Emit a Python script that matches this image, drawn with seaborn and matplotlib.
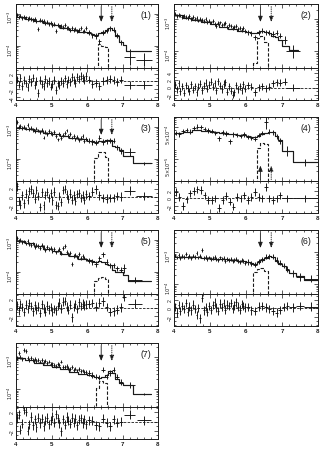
import numpy as np
import matplotlib
matplotlib.use("Agg")
import matplotlib.pyplot as plt
import seaborn as sns
from matplotlib.ticker import FixedLocator, FixedFormatter, MultipleLocator, NullFormatter

# ---------------- shared energy grids (keV) ----------------
E_DENSE = [4.025, 4.075, 4.125, 4.175, 4.225, 4.275, 4.325, 4.375, 4.425, 4.475,
           4.525, 4.575, 4.625, 4.675, 4.725, 4.775, 4.825, 4.875, 4.925, 4.975,
           5.025, 5.075, 5.125, 5.175, 5.225, 5.275, 5.325, 5.375, 5.425, 5.475,
           5.525, 5.575, 5.625, 5.675, 5.725, 5.775, 5.825, 5.875, 5.925, 5.975]
E_MID = [6.05, 6.15, 6.25, 6.35, 6.45, 6.55, 6.65, 6.75, 6.85, 6.95]
E_COARSE = [4.05, 4.15, 4.25, 4.35, 4.45, 4.55, 4.65, 4.75, 4.85, 4.95,
            5.05, 5.15, 5.25, 5.35, 5.45, 5.55, 5.65, 5.75, 5.85, 5.95,
            6.05, 6.15, 6.25, 6.35, 6.45, 6.55, 6.65, 6.75, 6.85, 6.95]
DENSE_HW, MID_HW, COARSE_HW = 0.025, 0.05, 0.05
DENSE_ERR, MID_ERR = 0.06, 0.08          # error half-size (dex)
MODEL_EDGES = [4.0, 4.25, 4.5, 4.75, 5.0, 5.25, 5.5, 5.75, 6.0,
               6.1, 6.2, 6.3, 6.4, 6.5, 6.6, 6.7, 6.8, 6.9, 7.0]
X_TICKS = [4, 5, 6, 7, 8]
FE_LINES = [6.4, 6.7]

# ---------------- panel (1) ----------------
P1_LOGFLUX = [-3.04, -3.10, -3.06, -3.14, -3.10, -3.12, -3.18, -3.14, -3.16, -3.20,
              -3.16, -3.22, -3.48, -3.20, -3.24, -3.22, -3.28, -3.26, -3.32, -3.28,
              -3.36, -3.32, -3.54, -3.36, -3.40, -3.38, -3.42, -3.36, -3.46, -3.44,
              -3.50, -3.46, -3.52, -3.48, -3.54, -3.50, -3.44, -3.56, -3.54, -3.44,
              -3.58, -3.68, -3.70, -3.86, -3.60, -3.54, -3.46, -3.50, -3.68, -3.90,
              -4.36, -4.44]
P1_TAIL_E, P1_TAIL_HW, P1_TAIL_ERR = [7.2, 7.6], [0.15, 0.22], [0.25, 0.2]
P1_RESID = [0.5, -0.8, 0.9, -1.2, 0.3, -0.5, -1.5, 0.6, -0.2, 1.0,
            -0.9, 0.2, -3.0, 0.4, -0.6, -1.1, 0.7, -0.4, 0.1, -1.3,
            -0.7, 0.3, -2.2, -0.5, -1.0, 0.2, -0.3, 0.8, -0.6, 0.5,
            -0.2, 1.1, 0.4, -0.3, 1.2, 0.6, 1.5, 0.9, 0.3, 1.4,
            0.5, -0.6, -0.3, -1.2, 0.2, 0.4, 0.6, 0.3, -0.2, 0.5,
            -0.9, -0.9]
P1_MODEL = [-3.10, -3.17, -3.24, -3.30, -3.37, -3.44, -3.50, -3.56, -3.62,
            -3.64, -3.66, -3.62, -3.58, -3.52, -3.46, -3.52, -3.70, -3.90]
P1_MODEL_TAIL_EDGES, P1_MODEL_TAIL = [7.1, 7.8], [-3.98, -4.18]
P1_LINE_EDGES, P1_LINE = [6.3, 6.4, 6.5, 6.6], [-3.96, -4.00, -4.04]

# ---------------- panel (2) ----------------
P2_LOGFLUX = [-2.84, -2.90, -2.86, -2.88, -2.94, -2.90, -2.92, -2.96, -2.90, -2.98,
              -2.94, -3.00, -2.96, -3.04, -2.98, -3.02, -3.06, -3.00, -3.08, -3.04,
              -3.10, -3.06, -3.14, -3.22, -3.12, -3.10, -3.18, -3.14, -3.12, -3.24,
              -3.18, -3.22, -3.28, -3.24, -3.20, -3.30, -3.26, -3.34, -3.28, -3.36,
              -3.40, -3.44, -3.56, -3.42, -3.36, -3.40, -3.42, -3.46, -3.42, -3.52,
              -3.64, -4.00]
P2_TAIL_E, P2_TAIL_HW, P2_TAIL_ERR = [7.07, 7.3], [0.07, 0.2], [0.12, 0.2]
P2_RESID = [0.8, -0.5, 1.2, -1.0, 0.3, -1.4, 0.6, -0.2, -1.1, 0.9,
            -0.6, 0.4, -1.3, 0.2, 1.1, -0.7, 0.5, 1.4, -0.3, 0.8,
            1.6, 0.2, 1.2, -0.8, 1.8, 0.5, -0.4, 1.0, 1.5, -1.2,
            0.3, -0.9, -2.0, -1.3, 0.6, -0.5, 0.4, -0.8, 0.9, -0.3,
            0.6, 0.2, -1.3, 0.1, 0.4, -0.2, 0.2, 1.2, 1.5, 1.4,
            1.6, 0.0]
P2_MODEL = [-2.88, -2.95, -3.02, -3.09, -3.16, -3.23, -3.30, -3.37, -3.40,
            -3.42, -3.44, -3.40, -3.38, -3.40, -3.44, -3.52, -3.56, -3.64]
P2_MODEL_TAIL_EDGES, P2_MODEL_TAIL = [7.2, 7.45], [-3.82, -3.96]
P2_LINE_EDGES, P2_LINE = [6.2, 6.3, 6.4, 6.5, 6.6], [-4.36, -3.58, -3.52, -3.72]

# ---------------- panel (3) ----------------
P3_LOGFLUX = [-2.86, -3.02, -2.98, -3.04, -3.00, -3.06, -2.96, -3.08, -3.04, -3.10,
              -3.14, -3.06, -3.12, -3.18, -3.10, -3.34, -3.16, -3.22, -3.14, -3.20,
              -3.24, -3.18, -3.28, -3.40, -3.22, -3.36, -3.26, -3.20, -3.12, -3.30,
              -3.24, -3.34, -3.28, -3.40, -3.32, -3.42, -3.36, -3.30, -3.44, -3.38,
              -3.44, -3.48, -3.50, -3.34, -3.48, -3.46, -3.44, -3.44, -3.64, -3.76,
              -3.80, -4.14]
P3_TAIL_E, P3_TAIL_HW, P3_TAIL_ERR = [7.2, 7.6], [0.15, 0.22], [0.12, 0.05]
P3_RESID = [2.5, -1.0, -1.8, 0.4, -1.5, 0.8, -0.6, 1.4, 1.8, 0.9,
            -0.4, 1.6, 0.3, -2.4, 1.1, -2.0, 0.5, 1.2, -0.3, 0.9,
            -0.8, 1.3, -1.9, -2.1, 0.2, -1.2, 1.7, 1.9, 0.6, -0.5,
            0.8, -0.6, 0.4, -1.0, 0.7, 1.0, -0.2, 0.5, -0.7, 0.6,
            0.2, 1.3, 1.8, 0.4, -0.3, -0.4, -0.2, -0.3, 0.2, 0.1,
            1.5, 0.2]
P3_MODEL = [-3.03, -3.08, -3.14, -3.19, -3.24, -3.30, -3.35, -3.40, -3.44,
            -3.46, -3.48, -3.46, -3.44, -3.42, -3.42, -3.60, -3.64, -3.74]
P3_MODEL_TAIL_EDGES, P3_MODEL_TAIL = [7.3, 7.8], [-3.92, -4.14]
P3_LINE_EDGES, P3_LINE = [6.2, 6.3, 6.4, 6.5, 6.6], [-3.98, -3.78, -3.80, -3.94]

# ---------------- panel (4) ----------------
P4_LOGFLUX = [-3.50, -3.54, -3.44, -3.40, -3.46, -3.34, -3.30, -3.32, -3.38, -3.42,
              -3.44, -3.50, -3.66, -3.48, -3.52, -3.76, -3.54, -3.56, -3.60, -3.54,
              -3.62, -3.66, -3.68, -3.56, -3.50, -3.16, -3.46, -3.48, -3.60, -3.74,
              -4.06, -4.42]
P4_ERR = [0.07, 0.07, 0.07, 0.07, 0.07, 0.07, 0.07, 0.07, 0.07, 0.07,
          0.07, 0.07, 0.08, 0.07, 0.07, 0.08, 0.07, 0.07, 0.07, 0.07,
          0.07, 0.07, 0.08, 0.07, 0.07, 0.20, 0.07, 0.07, 0.08, 0.09,
          0.15, 0.10]
P4_TAIL_E, P4_TAIL_HW = [7.15, 7.65], [0.15, 0.35]
P4_RESID = [1.7, 0.4, -2.0, -0.3, 1.3, 2.0, 2.4, 2.2, 0.8, -0.4,
            -0.4, 0.0, -2.6, -0.4, 0.6, -0.9, -2.2, 0.4, 0.0, 0.8,
            -0.4, 0.4, 1.7, 0.4, 0.0, 3.0, 0.0, -0.4, 0.0, 0.8,
            0.0, 0.0]
P4_MODEL = [-3.50, -3.46, -3.42, -3.44, -3.46, -3.50, -3.52, -3.56, -3.60,
            -3.62, -3.64, -3.60, -3.54, -3.50, -3.46, -3.48, -3.58, -3.72]
P4_MODEL_TAIL_EDGES, P4_MODEL_TAIL = [7.3, 8.0], [-4.06, -4.42]
P4_LINE_EDGES, P4_LINE = [6.3, 6.4, 6.5, 6.6], [-3.96, -3.80, -3.84]

# ---------------- panel (5) ----------------
P5_LOGFLUX = [-2.96, -3.04, -3.00, -3.08, -3.06, -3.12, -3.04, -3.14, -3.18, -3.12,
              -3.22, -3.16, -3.20, -3.26, -3.18, -3.24, -3.32, -3.22, -3.30, -3.26,
              -3.36, -3.30, -3.40, -3.34, -3.28, -3.42, -3.26, -3.20, -3.38, -3.46,
              -3.42, -3.76, -3.52, -3.48, -3.54, -3.46, -3.58, -3.50, -3.56, -3.62,
              -3.66, -3.70, -3.76, -3.58, -3.46, -3.70, -3.80, -3.80, -3.90, -3.94,
              -3.90, -4.26]
P5_TAIL_E, P5_TAIL_HW, P5_TAIL_ERR = [7.05, 7.35], [0.06, 0.2], [0.15, 0.1]
P5_RESID = [0.5, -0.6, 0.9, 0.2, -1.0, 0.7, -0.3, 1.1, 0.4, -0.8,
            0.6, -0.5, 0.3, -1.2, 0.8, -0.2, -0.9, 0.5, -0.4, 0.2,
            -1.0, -0.3, -0.6, 0.4, 1.2, -0.2, 1.4, 1.6, 0.3, -0.5,
            0.7, -2.2, 0.2, 0.9, -0.3, 1.3, 0.4, 1.0, 0.6, 0.8,
            0.9, 1.1, 0.3, 1.2, 1.5, 0.2, -1.0, -0.8, -0.4, 0.1,
            2.5, 1.0]
P5_MODEL = [-3.04, -3.12, -3.20, -3.28, -3.36, -3.44, -3.52, -3.60, -3.64,
            -3.68, -3.70, -3.68, -3.70, -3.76, -3.80, -3.94, -4.00, -4.02]
P5_MODEL_TAIL_EDGES, P5_MODEL_TAIL = [7.15, 7.8], [-4.10, -4.30]
P5_LINE_EDGES, P5_LINE = [6.2, 6.3, 6.4, 6.5, 6.6], [-4.30, -4.20, -4.18, -4.22]

# ---------------- panel (6) ----------------
P6_LOGFLUX = [-3.10, -3.16, -3.08, -3.18, -3.12, -3.14, -3.06, -3.16, -3.12, -3.18,
              -3.10, -3.14, -3.02, -3.16, -3.12, -2.92, -3.18, -3.14, -3.20, -3.16,
              -3.22, -3.18, -3.14, -3.20, -3.24, -3.16, -3.22, -3.18, -3.26, -3.20,
              -3.24, -3.22, -3.28, -3.24, -3.20, -3.26, -3.30, -3.24, -3.28, -3.32,
              -3.30, -3.36, -3.38, -3.28, -3.22, -3.14, -3.12, -3.14, -3.24, -3.32,
              -3.42, -3.52, -3.66, -3.78, -3.82]
P6_TAIL_E = [7.05, 7.15, 7.3, 7.5, 7.8]
P6_TAIL_HW = [0.05, 0.05, 0.1, 0.1, 0.2]
P6_TAIL_ERR = [0.08, 0.09, 0.1, 0.12, 0.12]
P6_RESID = [0.3, -1.0, 0.8, -0.6, 0.5, -0.2, 1.2, -0.8, 0.4, -0.5,
            0.9, -0.2, -1.6, 0.1, -2.4, 2.4, -0.5, 0.3, -0.9, 0.6,
            -0.4, 0.8, 1.4, 0.2, -0.6, 1.1, 0.3, 1.3, -0.3, 0.9,
            0.5, 1.2, -0.2, 0.7, 1.4, 0.4, -0.3, 1.0, 0.6, 0.2,
            0.3, -0.5, -0.6, 0.4, 0.5, 0.2, -0.2, -0.6, -1.0, -0.4,
            0.3, 0.5, 0.2, 0.6, 0.4]
P6_MODEL = [-3.14, -3.14, -3.16, -3.18, -3.20, -3.22, -3.24, -3.28, -3.30,
            -3.34, -3.36, -3.30, -3.24, -3.18, -3.12, -3.16, -3.26, -3.36]
P6_MODEL_TAIL_EDGES = [7.1, 7.2, 7.4, 7.6, 8.0]
P6_MODEL_TAIL = [-3.44, -3.54, -3.64, -3.74, -3.86]
P6_LINE_EDGES, P6_LINE = [6.2, 6.3, 6.4, 6.5, 6.6], [-3.62, -3.52, -3.50, -3.58]

# ---------------- panel (7) ----------------
P7_LOGFLUX = [-3.04, -2.88, -3.00, -3.06, -2.78, -2.82, -3.04, -3.08, -3.02, -3.10,
              -3.06, -3.12, -3.08, -3.14, -3.10, -3.16, -3.12, -3.18, -3.14, -3.22,
              -3.20, -3.24, -3.28, -3.22, -3.26, -3.14, -3.30, -3.32, -3.28, -3.34,
              -3.38, -3.32, -3.40, -3.36, -3.42, -3.38, -3.44, -3.42, -3.48, -3.46,
              -3.50, -3.56, -3.62, -3.64, -3.40, -3.62, -3.50, -3.40, -3.62, -3.78,
              -3.88, -4.16]
P7_TAIL_E, P7_TAIL_HW, P7_TAIL_ERR = [7.2, 7.6], [0.15, 0.2], [0.1, 0.04]
P7_RESID = [0.8, 1.5, -1.8, -0.5, 2.6, 2.2, -2.0, -0.6, 1.0, -0.8,
            0.5, -1.2, 0.9, -0.3, 0.6, -1.0, 0.2, 0.8, -0.6, 0.3,
            1.2, -0.2, 1.6, 0.7, -0.4, -2.1, 0.5, -0.7, 1.0, 0.2,
            -0.5, 0.9, -0.2, 0.6, -0.8, 0.4, 0.7, -0.3, 0.5, -0.6,
            0.3, 0.2, -0.8, -1.0, 0.6, -0.2, -1.0, 0.5, -0.2, 0.0,
            1.5, 0.3]
P7_MODEL = [-3.04, -3.10, -3.18, -3.24, -3.32, -3.38, -3.46, -3.52, -3.56,
            -3.60, -3.62, -3.64, -3.62, -3.56, -3.44, -3.50, -3.68, -3.80]
P7_MODEL_TAIL_EDGES, P7_MODEL_TAIL = [7.3, 7.8], [-3.88, -4.14]
P7_LINE_EDGES, P7_LINE = [6.25, 6.35, 6.45, 6.55], [-3.98, -3.76, -3.80]

# ---------------- axis settings per panel ----------------
SPEC_BOTTOM = [2e-5, 3e-5, 2e-5, 1e-5, 2e-5, 5e-5, 2.75e-5]
DEC_TICKS = [1e-4, 1e-3]
DEC_LABELS = ["$10^{-4}$", "$10^{-3}$"]
P4_TICKS = [5e-5, 5e-4]
P4_LABELS = ["$5{\\times}10^{-5}$", "$5{\\times}10^{-4}$"]
RES_LIMS = [(-4.8, 3.5), (-3.5, 5.5), (-3.8, 3.8), (-3.9, 4.6), (-4.2, 3.2), (-4.2, 3.4), (-3.8, 3.2)]
RES_TICKS = [[-4, -2, 0, 2], [-2, 0, 2, 4], [-2, 0, 2], [-2, 0, 2], [-2, 0, 2], [-2, 0, 2], [-2, 0, 2]]
LABELS = ["(1)", "(2)", "(3)", "(4)", "(5)", "(6)", "(7)"]

# ---------------- figure ----------------
sns.set_theme(style="ticks")
plt.rcParams["font.family"] = ["Liberation Sans", "DejaVu Sans"]
plt.rcParams["axes.linewidth"] = 0.7

W, H = 327, 452
fig = plt.figure(figsize=(W / 100, H / 100), dpi=100)
COL_X, COL_W = [16, 174], [142, 144]
ROW_TOP = [5, 118, 231, 344]
SPEC_H, RES_H = 64, 32
POS = [(0, 0), (0, 1), (1, 0), (1, 1), (2, 0), (2, 1), (3, 0)]
ARROW = "-|>,head_length=0.55,head_width=0.22"


def rect(x, top, w, h):
    return [x / W, 1 - (top + h) / H, w / W, h / H]


def style_axes(ax):
    ax.set_xlim(4, 8)
    ax.xaxis.set_major_locator(FixedLocator(X_TICKS))
    ax.xaxis.set_minor_locator(MultipleLocator(0.2))
    ax.tick_params(which="both", direction="in", top=True, right=True, width=0.5, colors="k")
    ax.tick_params(which="major", length=2.8)
    ax.tick_params(which="minor", length=1.4)
    ax.tick_params(axis="y", labelrotation=90, labelsize=3.6, pad=1)
    ax.tick_params(axis="x", labelsize=4.4, pad=1.5)
    for lab in ax.get_xticklabels():
        lab.set_fontweight("bold")
    for s in ax.spines.values():
        s.set_linewidth(0.7)
        s.set_color("k")
    ax.grid(False)


def arrow(ax, e, y0, y1, ls):
    ax.annotate("", xy=(e, y1), xytext=(e, y0),
                xycoords=("data", "axes fraction"), textcoords=("data", "axes fraction"),
                arrowprops=dict(arrowstyle=ARROW, lw=0.6, ls=ls, color="k",
                                shrinkA=0, shrinkB=0, mutation_scale=6))


def draw_panel(i, energies, halfw, logflux, errdex, resid, model_vals, tail_edges,
               tail_vals, line_edges, line_vals):
    row, col = POS[i]
    top = ROW_TOP[row]
    ax_s = fig.add_axes(rect(COL_X[col], top, COL_W[col], SPEC_H))
    ax_r = fig.add_axes(rect(COL_X[col], top + SPEC_H, COL_W[col], RES_H))
    b = SPEC_BOTTOM[i]
    ax_s.set_yscale("log")
    ax_s.set_ylim(b, b * 100)

    flux = 10.0 ** np.array(logflux)
    err = np.array(errdex)
    lo = flux - flux / 10.0 ** err
    hi = flux * 10.0 ** err - flux
    ax_s.errorbar(energies, flux, xerr=halfw, yerr=[lo, hi], fmt="none",
                  ecolor="0.05", elinewidth=0.65, capsize=0)

    edges = MODEL_EDGES + tail_edges
    mvals = list(10.0 ** np.array(model_vals + tail_vals))
    sns.lineplot(x=edges, y=mvals + [mvals[-1]], drawstyle="steps-post", ax=ax_s,
                 color="k", lw=0.85, estimator=None, sort=False)
    ax_s.stairs(10.0 ** np.array(line_vals), line_edges, baseline=b * 1e-2,
                color="k", lw=0.8, ls=(0, (3, 1.6)))

    if i == 3:
        ax_s.yaxis.set_major_locator(FixedLocator(P4_TICKS))
        ax_s.yaxis.set_major_formatter(FixedFormatter(P4_LABELS))
    else:
        ax_s.yaxis.set_major_locator(FixedLocator(DEC_TICKS))
        ax_s.yaxis.set_major_formatter(FixedFormatter(DEC_LABELS))
    ax_s.yaxis.set_minor_formatter(NullFormatter())
    style_axes(ax_s)
    ax_s.tick_params(axis="x", labelbottom=False)

    ax_s.text(0.955, 0.9, LABELS[i], transform=ax_s.transAxes, ha="right", va="top",
              fontsize=6.3, color="k")
    if i == 3:
        arrow(ax_s, FE_LINES[0], 0.02, 0.24, "-")
        arrow(ax_s, FE_LINES[1], 0.02, 0.24, ":")
    else:
        arrow(ax_s, FE_LINES[0], 0.96, 0.72, "-")
        arrow(ax_s, FE_LINES[1], 0.96, 0.72, ":")

    ax_r.errorbar(energies, resid, xerr=halfw, yerr=1.0, fmt="none",
                  ecolor="0.05", elinewidth=0.65, capsize=0)
    ax_r.axhline(0, color="k", lw=0.6, ls=(0, (3, 1.6)))
    ax_r.set_ylim(*RES_LIMS[i])
    ax_r.yaxis.set_major_locator(FixedLocator(RES_TICKS[i]))
    ax_r.yaxis.set_minor_locator(MultipleLocator(1))
    style_axes(ax_r)


def full(tail_e):
    return E_DENSE + E_MID + tail_e


def hws(tail_hw):
    return [DENSE_HW] * len(E_DENSE) + [MID_HW] * len(E_MID) + tail_hw


def errs(tail_err):
    return [DENSE_ERR] * len(E_DENSE) + [MID_ERR] * len(E_MID) + tail_err


draw_panel(0, full(P1_TAIL_E), hws(P1_TAIL_HW), P1_LOGFLUX, errs(P1_TAIL_ERR), P1_RESID,
           P1_MODEL, P1_MODEL_TAIL_EDGES, P1_MODEL_TAIL, P1_LINE_EDGES, P1_LINE)
draw_panel(1, full(P2_TAIL_E), hws(P2_TAIL_HW), P2_LOGFLUX, errs(P2_TAIL_ERR), P2_RESID,
           P2_MODEL, P2_MODEL_TAIL_EDGES, P2_MODEL_TAIL, P2_LINE_EDGES, P2_LINE)
draw_panel(2, full(P3_TAIL_E), hws(P3_TAIL_HW), P3_LOGFLUX, errs(P3_TAIL_ERR), P3_RESID,
           P3_MODEL, P3_MODEL_TAIL_EDGES, P3_MODEL_TAIL, P3_LINE_EDGES, P3_LINE)
draw_panel(3, E_COARSE + P4_TAIL_E, [COARSE_HW] * len(E_COARSE) + P4_TAIL_HW, P4_LOGFLUX,
           P4_ERR, P4_RESID, P4_MODEL, P4_MODEL_TAIL_EDGES, P4_MODEL_TAIL,
           P4_LINE_EDGES, P4_LINE)
draw_panel(4, full(P5_TAIL_E), hws(P5_TAIL_HW), P5_LOGFLUX, errs(P5_TAIL_ERR), P5_RESID,
           P5_MODEL, P5_MODEL_TAIL_EDGES, P5_MODEL_TAIL, P5_LINE_EDGES, P5_LINE)
draw_panel(5, full(P6_TAIL_E), hws(P6_TAIL_HW), P6_LOGFLUX, errs(P6_TAIL_ERR), P6_RESID,
           P6_MODEL, P6_MODEL_TAIL_EDGES, P6_MODEL_TAIL, P6_LINE_EDGES, P6_LINE)
draw_panel(6, full(P7_TAIL_E), hws(P7_TAIL_HW), P7_LOGFLUX, errs(P7_TAIL_ERR), P7_RESID,
           P7_MODEL, P7_MODEL_TAIL_EDGES, P7_MODEL_TAIL, P7_LINE_EDGES, P7_LINE)

fig.savefig("out.png", dpi=100, facecolor="white")
